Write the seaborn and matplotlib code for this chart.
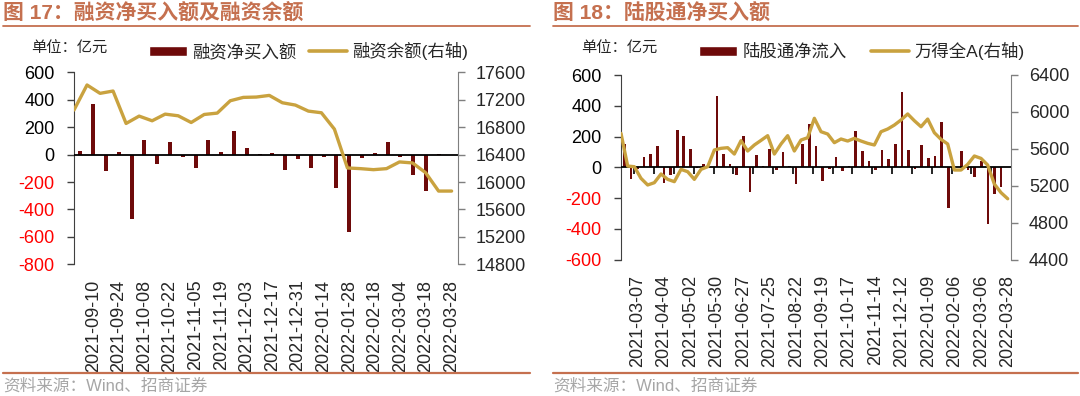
import numpy as np
import matplotlib
matplotlib.use("Agg")
import matplotlib.pyplot as plt
from matplotlib.patches import Patch
from matplotlib.lines import Line2D
import seaborn as sns

# ---- 图17 数据 (周度, 亿元) ----
margin_net_buy = [25, 370, -120, 20, -468, 105, -70, 90, -15, -95,
                  105, 18, 175, 50, 5, 15, -110, -30, -95, -15,
                  -247, -562, -25, 15, 95, -15, -150, -265, 3, 0]
margin_balance = [17050, 17415, 17293, 17327, 16854, 16961, 16893, 16990, 16966, 16868,
                  16985, 17005, 17185, 17234, 17239, 17263, 17156, 17122, 17034, 17010,
                  16771, 16205, 16195, 16180, 16195, 16293, 16278, 16137, 15868, 15868]
left_labels = ["2021-09-10", "2021-09-24", "2021-10-08", "2021-10-22", "2021-11-05",
               "2021-11-19", "2021-12-03", "2021-12-17", "2021-12-31", "2022-01-14",
               "2022-01-28", "2022-02-18", "2022-03-04", "2022-03-18", "2022-03-28"]

# ---- 图18 数据 (周度, 亿元) ----
north_net_flow = [150, -75, -10, 65, 85, 140, -100, -50, 240, 205,
                  120, -5, 25, 5, 465, 85, 25, -50, 205, -160,
                  80, 10, 117, -15, 100, 10, -106, 150, 280, 139,
                  -89, -10, 70, -26, 10, 235, 106, 43, -15, 111,
                  54, 150, 487, 113, -10, 146, 59, 72, 293, -261,
                  5, 106, -15, -65, 43, -365, -170, -128, np.nan]
wind_a = [5768, 5414, 5407, 5281, 5209, 5234, 5328, 5270, 5245, 5378,
          5353, 5270, 5378, 5407, 5588, 5606, 5613, 5544, 5689, 5577,
          5642, 5692, 5743, 5544, 5653, 5743, 5577, 5696, 5721, 5931,
          5786, 5761, 5667, 5707, 5685, 5714, 5685, 5660, 5642, 5786,
          5815, 5858, 5913, 5978, 5905, 5840, 5923, 5775, 5703, 5653,
          5371, 5371, 5432, 5523, 5497, 5425, 5219, 5126, 5060]
right_labels = ["2021-03-07", "2021-04-04", "2021-05-02", "2021-05-30", "2021-06-27",
                "2021-07-25", "2021-08-22", "2021-09-19", "2021-10-17", "2021-11-14",
                "2021-12-12", "2022-01-09", "2022-02-06", "2022-03-06", "2022-03-28"]

bar_color = "#6E0A0A"
line_color = "#C9A23F"
title_color = "#C5704F"

sns.set_style("white")
plt.rcParams["font.family"] = ["Liberation Sans", "Noto Sans CJK SC", "DejaVu Sans"]

W, H = 1080, 396
fig = plt.figure(figsize=(W / 100, H / 100), dpi=100)


def px(x, y):
    return x / W, 1 - y / H


def panel(rect, bars, line, ylim, y2lim, ystep, y2step, labels, label_idx, axis_ticks, bar_w):
    ax = fig.add_axes(rect)
    n = len(bars)
    bar_x = np.arange(n) + 0.5
    sns.barplot(x=bar_x, y=bars, native_scale=True, width=bar_w, color=bar_color,
                saturation=1, errorbar=None, linewidth=0, ax=ax, zorder=2)
    ax.set_xlim(0, n)
    ax.set_ylim(*ylim)
    yt = np.arange(ylim[0], ylim[1] + 1, ystep)
    ax.set_yticks(yt)
    ax.set_yticklabels([str(int(v)) for v in yt])
    for t, v in zip(ax.get_yticklabels(), yt):
        t.set_color("red" if v < 0 else "black")
    ax.set_xticks(label_idx + 0.5)
    ax.set_xticklabels(labels, rotation=90)
    ax.tick_params(axis="x", length=0, pad=11, labelsize=13)
    ax.tick_params(axis="y", direction="out", length=5, width=1, color="#404040",
                   pad=9, labelsize=13, left=True)
    for s in ["top", "right", "bottom"]:
        ax.spines[s].set_visible(False)
    ax.spines["left"].set_color("#404040")
    ax.axhline(0, color="black", lw=1.3, zorder=3)
    if axis_ticks is not None:
        # 横轴刻度线挂在零线上
        zero_frac = -ylim[0] / (ylim[1] - ylim[0])
        sec = ax.secondary_xaxis(zero_frac)
        sec.xaxis.set_ticks_position("bottom")
        sec.set_xticks(axis_ticks)
        sec.set_xticklabels([])
        sec.tick_params(length=5, width=1.2, color="black", direction="out",
                        labelbottom=False, labeltop=False)
        sec.spines["bottom"].set_visible(False)
        sec.spines["top"].set_visible(False)
    ax.set_xlabel("")
    ax.set_ylabel("")

    ax2 = ax.twinx()
    line_x = np.linspace(0, n - 0.5, len(line))
    sns.lineplot(x=line_x, y=line, color=line_color, lw=2.4, ax=ax2)
    ax2.set_ylim(*y2lim)
    ax2.set_yticks(np.arange(y2lim[0], y2lim[1] + 1, y2step))
    ax2.tick_params(axis="y", direction="out", length=5, width=1, color="#7F7F7F",
                    pad=8, labelsize=13, right=True)
    for s in ["top", "left", "bottom"]:
        ax2.spines[s].set_visible(False)
    ax2.spines["right"].set_color("#7F7F7F")
    ax2.set_xlim(0, n)
    ax2.set_ylabel("")
    return ax, ax2


axl, axl2 = panel([74 / W, 1 - 264.3 / H, 384 / W, 192 / H],
                  margin_net_buy, margin_balance, (-800, 600), (14800, 17600), 200, 400,
                  left_labels, np.arange(1, 30, 2), None, 0.32)
axr, axr2 = panel([621 / W, 1 - 259.7 / H, 390 / W, 184.7 / H],
                  north_net_flow, wind_a, (-600, 600), (4400, 6400), 200, 400,
                  right_labels, np.arange(2, 59, 4), np.arange(2, 57, 3), 0.4)

# 标题、分隔线、来源
for x0, x1, title in [(3, 530, "图 17：融资净买入额及融资余额"),
                      (553, 1078, "图 18：陆股通净买入额")]:
    fig.text(*px(x0, 14), title, fontsize=15, fontweight="bold", color=title_color, va="center")
    fig.add_artist(Line2D([x0 / W, x1 / W], [1 - 26 / H] * 2, color=title_color, lw=1.3))
    fig.add_artist(Line2D([x0 / W, x1 / W], [1 - 372.5 / H] * 2, color=title_color, lw=1.6))
    fig.text(*px(x0, 386), "资料来源：Wind、招商证券", fontsize=12, color="#A6A6A6", va="center")
    fig.text(*px(x0 + 28, 49), "单位：亿元", fontsize=11, color="#262626", va="center")

legend_kw = dict(loc="center left", ncol=2, frameon=False, fontsize=12.5, handlelength=2.2,
                 handleheight=0.55, handletextpad=0.3, borderpad=0, borderaxespad=0,
                 bbox_transform=fig.transFigure)
axl2.legend([Patch(facecolor=bar_color), Line2D([], [], color=line_color, lw=2.6)],
            ["融资净买入额", "融资余额(右轴)"], bbox_to_anchor=px(149, 51),
            columnspacing=0.7, **legend_kw)
axr2.legend([Patch(facecolor=bar_color), Line2D([], [], color=line_color, lw=2.6)],
            ["陆股通净流入", "万得全A(右轴)"], bbox_to_anchor=px(699, 51),
            columnspacing=1.4, **legend_kw)

fig.savefig("out.png", dpi=100)
